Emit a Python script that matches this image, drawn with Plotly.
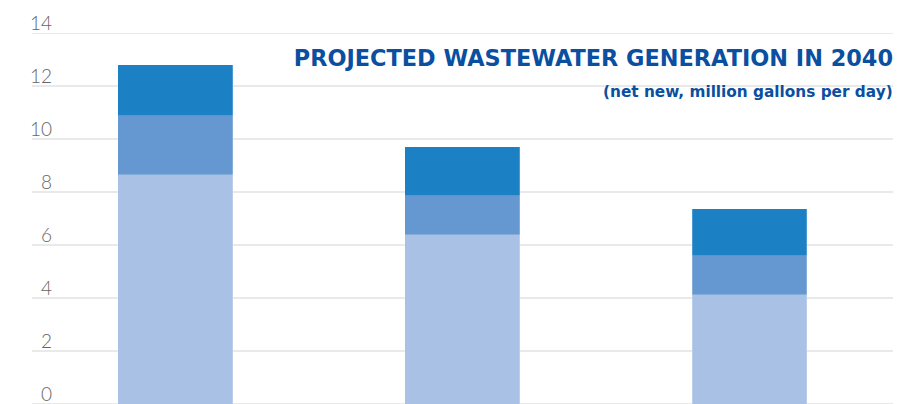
import plotly.graph_objects as go

categories = ["A", "B", "C"]
base_values = [8.65, 6.39, 4.12]
middle_values = [2.22, 1.47, 1.48]
top_values = [1.93, 1.85, 1.76]
y_ticks = [0, 2, 4, 6, 8, 10, 12, 14]

colors = ["#A8C1E4", "#6598D0", "#1C80C4"]
series = [("Base", base_values), ("Middle", middle_values), ("Top", top_values)]

fig = go.Figure()
for (name, vals), col in zip(series, colors):
    fig.add_trace(go.Bar(
        x=categories, y=vals, name=name, width=0.4,
        marker=dict(color=col, line=dict(width=0.6, color="rgba(255,255,255,0.35)")),
    ))

W, H = 897, 404
L, R, T, B = 53, 4, 33, 0
plot_w = W - L - R
grid_x0 = (32 - L) / plot_w

for t in y_ticks:
    fig.add_shape(type="line", xref="paper", yref="y", x0=grid_x0, x1=1, y0=t, y1=t,
                  line=dict(color="#E2E2E2", width=1.5), layer="below")

fig.update_layout(
    width=W, height=H,
    margin=dict(l=L, r=R, t=T, b=B),
    barmode="stack",
    showlegend=False,
    plot_bgcolor="white", paper_bgcolor="white",
    xaxis=dict(range=[-0.426, 2.5], showticklabels=False, showgrid=False, zeroline=False,
               showline=False, ticks=""),
    yaxis=dict(range=[0, 14], tickvals=y_ticks, showgrid=False, zeroline=False,
               showline=False, ticks="", ticklabelposition="outside top",
               ticklabelshift=4, ticklabeloverflow="allow",
               tickfont=dict(family="Lato", size=19, color="#666666", weight=300)),
    title=dict(text="<b>PROJECTED WASTEWATER GENERATION IN 2040</b>",
               font=dict(family="DejaVu Sans", size=22.4, color="#0A4FA0"),
               xref="paper", x=1, xanchor="right",
               yref="container", y=1 - 58 / H, yanchor="middle"),
)

fig.add_annotation(text="<b>(net new, million gallons per day)</b>", xref="paper", yref="paper",
                   x=1, y=(H - 92) / (H - T), xanchor="right", yanchor="middle",
                   showarrow=False, xshift=2,
                   font=dict(family="DejaVu Sans", size=15.3, color="#0A4FA0"))

fig.write_html("out.html", config={"displayModeBar": False},
               post_script="document.body.style.margin='0';document.body.style.overflow='hidden';")
